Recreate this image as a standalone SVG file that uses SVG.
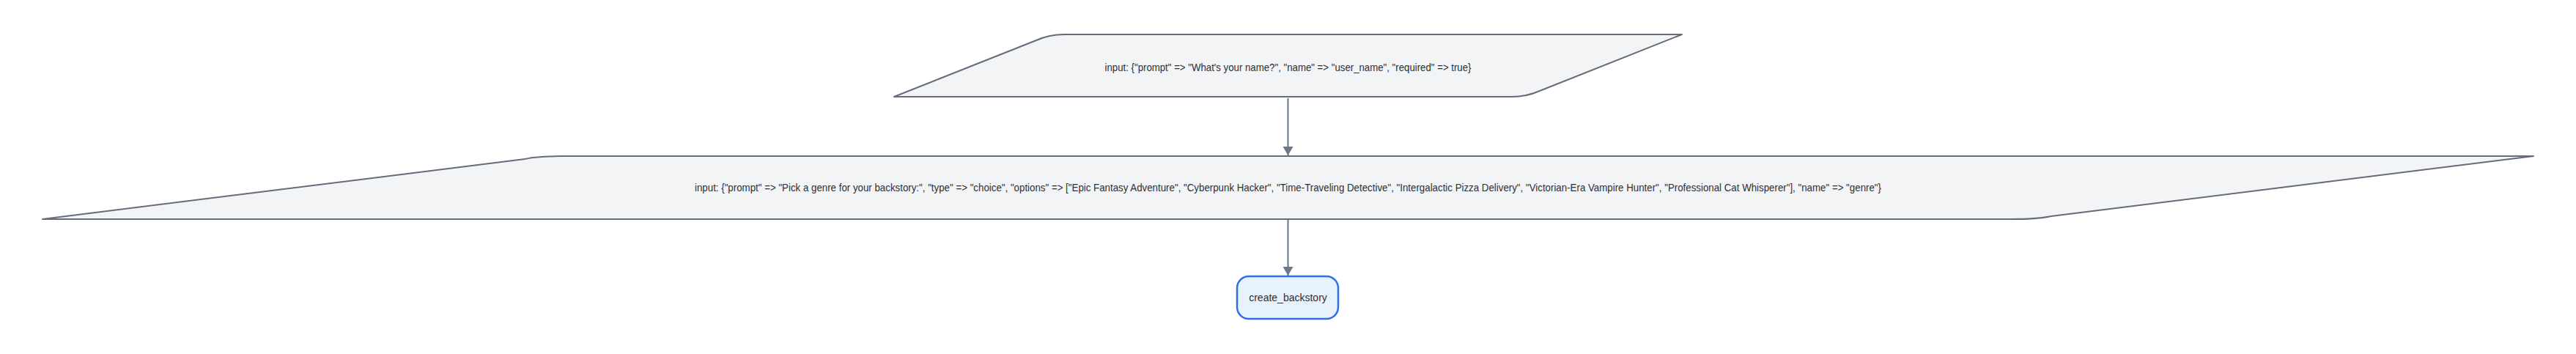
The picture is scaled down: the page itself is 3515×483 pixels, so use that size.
<svg xmlns="http://www.w3.org/2000/svg" width="3515" height="483" viewBox="0 0 3515 483">
<style>
.io{fill:#f3f4f6;stroke:#646c7a;stroke-width:2;stroke-linejoin:round}
.proc{fill:#e8f2fd;stroke:#2f6fe6;stroke-width:2.5}
.lbl{font-family:"Liberation Sans",Arial,sans-serif;font-size:14px;fill:#2b2f36;text-anchor:middle;dominant-baseline:central}
.big{font-size:14.5px}
.edge{stroke:#6b778b;stroke-width:2;fill:none}
</style>
<defs>
<marker id="arr" viewBox="0 0 12 14" refX="12" refY="7" markerWidth="12" markerHeight="14" markerUnits="userSpaceOnUse" orient="auto">
<path d="M0,0 L12,7 L0,14 Z" fill="#6b778b"/>
</marker>
</defs>
<g id="connectors">
<line class="edge" x1="1757.5" y1="134" x2="1757.5" y2="212" marker-end="url(#arr)"/>
<line class="edge" x1="1757.5" y1="299" x2="1757.5" y2="376" marker-end="url(#arr)"/>
</g>
<g id="node1">
<path class="io" d="M1220,132 L1414,55 Q1432,47 1452,47 L2295,47 L2101,124 Q2083,132 2063,132 Z"/>
<text class="lbl big" x="1757.5" y="92" textLength="500" lengthAdjust="spacingAndGlyphs">input: {"prompt" =&gt; "What's your name?", "name" =&gt; "user_name", "required" =&gt; true}</text>
</g>
<g id="node2">
<path class="io" d="M58,299 L716,217 Q734,213 770,213 L3457,213 L2799,295 Q2781,299 2745,299 Z"/>
<text class="lbl big" x="1757.5" y="256" textLength="1619" lengthAdjust="spacingAndGlyphs">input: {"prompt" =&gt; "Pick a genre for your backstory:", "type" =&gt; "choice", "options" =&gt; ["Epic Fantasy Adventure", "Cyberpunk Hacker", "Time-Traveling Detective", "Intergalactic Pizza Delivery", "Victorian-Era Vampire Hunter", "Professional Cat Whisperer"], "name" =&gt; "genre"}</text>
</g>
<g id="node3">
<rect class="proc" x="1688" y="377" width="138" height="58" rx="16" ry="16"/>
<text class="lbl" x="1757.5" y="406">create_backstory</text>
</g>
</svg>
